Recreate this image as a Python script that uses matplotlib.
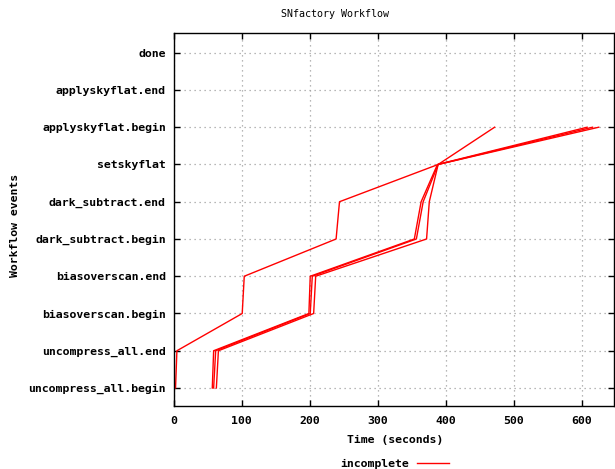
import matplotlib
matplotlib.use("Agg")
import matplotlib.pyplot as plt

# workflow events, bottom to top
events = ['uncompress_all.begin', 'uncompress_all.end', 'biasoverscan.begin',
          'biasoverscan.end', 'dark_subtract.begin', 'dark_subtract.end',
          'setskyflat', 'applyskyflat.begin', 'applyskyflat.end', 'done']

# time (seconds) each run reached each event (all incomplete, stop at applyskyflat.begin)
run_a = [3, 5, 101, 104, 239, 244, 389, 472]
run_b = [57, 59, 199, 201, 354, 364, 388, 608]
run_c = [59, 62, 201, 204, 357, 367, 389, 616]
run_d = [63, 66, 206, 209, 372, 376, 389, 625]
runs = [run_a, run_b, run_c, run_d]

xticks = [0, 100, 200, 300, 400, 500, 600]

mono = 'DejaVu Sans Mono'

fig = plt.figure(figsize=(6.15, 4.69), dpi=100)
ax = fig.add_axes([173.5 / 615, 1 - 406 / 469, (614 - 173.5) / 615, (406 - 32.7) / 469])

for i, r in enumerate(runs):
    ax.plot(r, range(len(r)), color='#ff0000', lw=1.0,
            label='incomplete' if i == 0 else None)

ax.set_xlim(0, 647.5)
ax.set_ylim(-0.483, 9.537)
ax.set_xticks(xticks)
ax.set_yticks(range(len(events)))
ax.set_yticklabels(events)
ax.grid(True, color='#a0a0a0', linestyle=(0, (1, 3)), lw=0.9)
ax.tick_params(direction='in', length=4, width=1, top=True, right=True,
               labelsize=8.25)
ax.tick_params(axis='y', pad=5.5)
ax.tick_params(axis='x', pad=7)
for lab in ax.get_xticklabels() + ax.get_yticklabels():
    lab.set_family(mono)
    lab.set_fontweight('bold')
for s in ax.spines.values():
    s.set_linewidth(1.0)

fig.text(395 / 615, 1 - 440 / 469, 'Time (seconds)', ha='center', va='center',
         family=mono, weight='bold', fontsize=8.25)
fig.text(15 / 615, 1 - 225 / 469, 'Workflow events', ha='center', va='center',
         rotation=90, family=mono, weight='bold', fontsize=8.25)
fig.text(335 / 615, 1 - 14 / 469, 'SNfactory Workflow', ha='center', va='center',
         family=mono, fontsize=7.2)

ax.legend(loc='center', bbox_to_anchor=(394.5 / 615, 1 - 464 / 469),
          bbox_transform=fig.transFigure, frameon=False, markerfirst=False,
          handlelength=2.8, handletextpad=0.7, borderpad=0,
          prop={'family': mono, 'weight': 'bold', 'size': 8.25})

fig.savefig('out.png', dpi=100)
